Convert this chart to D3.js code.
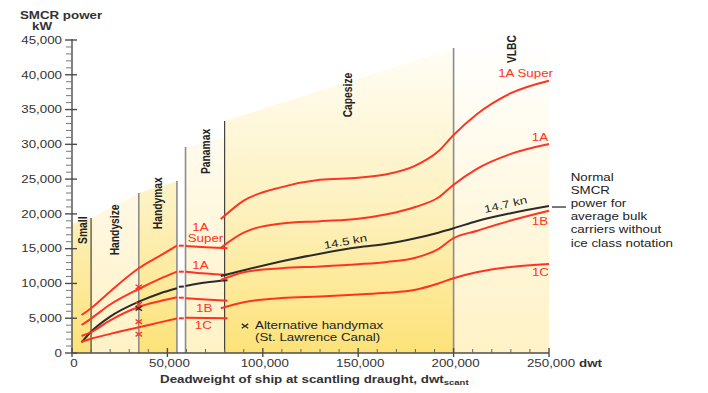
<!DOCTYPE html>
<html><head><meta charset="utf-8">
<script src="https://cdn.jsdelivr.net/npm/d3@7"></script>
<style>body{margin:0;background:#fff} svg{display:block}</style>
</head><body>
<svg id="chart" width="708" height="393"></svg>
<script>
// ---------- DATA ----------
const categories   = ["Small","Handysize","Handymax","Panamax","Capesize","VLBC"];
const catStart     = [0, 10000, 35000, 59500, 80000, 200000];
const catEnd       = [10000, 35000, 55000, 80000, 200000, 250000];
const catTopLeft   = [18500, 19400, 23000, 29600, 33350, 43850];
const catTopRight  = [19400, 23000, 24700, 31000, 43850, 48200];
const catStrong    = [true, false, true, false, true, false];
const catLabelDwt  = [5500, 22000, 45000, 70000, 144300, 230100];
const catLabelKw   = [17650, 17700, 21530, 28980, 37090, 43700];

const boundaryDwt  = [10000, 35000, 55000, 59500, 80000, 200000];
const boundaryTop  = [19400, 23000, 24730, 29610, 33350, 43850];
const boundaryDark = [true, false, false, false, true, false];

const yTicks = [0,5000,10000,15000,20000,25000,30000,35000,40000,45000];
const xTicks = [0,50000,100000,150000,200000,250000];

const seriesNames  = ["1A Super","1A","Normal","1B","1C"];

// Small .. Handymax segment
const dwtSmall        = [5000, 10000, 20000, 35000, 46000, 55000];
const kw1ASuperSmall  = [5460, 6430, 8850, 12180, 13950, 15430];
const kw1ASmall       = [4030, 4950, 6970, 9200, 10650, 11690];
const kwNormalSmall   = [1540, 3060, 5230, 7380, 8560, 9300];
const kw1BSmall       = [2440, 3000, 4700, 6620, 7450, 8010];
const kw1CSmall       = [1620, 2050, 2750, 3700, 4400, 4970];

// gap dashes
const dwtGap          = [56000, 58600];
const kw1ASuperGap    = [15430, 15430];
const kw1AGap         = [11690, 11690];
const kwNormalGap     = [9530, 9560];
const kw1BGap         = [7950, 7950];
const kw1CGap         = [4990, 4990];

// Panamax segment
const dwtPanamax      = [59500, 70000, 81500];
const kw1ASuperPanamax= [15380, 15200, 15050];
const kw1APanamax     = [11690, 11420, 11210];
const kwNormalPanamax = [9630, 10130, 10450];
const kw1BPanamax     = [7860, 7680, 7520];
const kw1CPanamax     = [5075, 5030, 4990];

// Capesize + VLBC segment
const dwtCape         = [78000, 90000, 110000, 130000, 150000, 165000, 180000, 192000, 200000, 212000, 230000, 250000];
const kw1ASuperCape   = [19250, 21900, 23850, 24900, 25200, 25700, 26950, 29000, 31350, 34300, 37350, 39150];
const kw1ACape        = [15140, 17300, 18620, 18950, 19300, 19950, 21000, 22350, 24200, 26450, 28620, 30050];
const kwNormalCape    = [11070, 11900, 13200, 14280, 15200, 15700, 16500, 17300, 17930, 18950, 20100, 21130];
const kw1BCape        = [10500, 11620, 12200, 12450, 12770, 13100, 13700, 14950, 16500, 17550, 19050, 20460];
const kw1CCape        = [6430, 7300, 7900, 8130, 8410, 8650, 9100, 10000, 10750, 11600, 12370, 12800];

// Alternative handymax (St. Lawrence Canal)
const altDwt = 35000;
const altKw  = [9500, 7000, 6400, 4500, 2700];

const noteLines = ["Normal","SMCR","power for","average bulk","carriers without","ice class notation"];

// ---------- CHART ----------
const RED = "#ff3322", BLACK = "#2b2b2b";
const seriesColors = [RED, RED, BLACK, RED, RED];
const SX = 1.27;
const FONT = "'Liberation Sans', Arial, Helvetica, sans-serif";

const svg = d3.select("#chart");
const x = d3.scaleLinear().domain([0,250000]).range([72,549]);
const y = d3.scaleLinear().domain([0,45000]).range([353,40]);

const defs = svg.append("defs");
function grad(id, bottom, mid, top){
  const g = defs.append("linearGradient").attr("id",id)
    .attr("gradientUnits","userSpaceOnUse")
    .attr("x1",0).attr("x2",0).attr("y1",y(0)).attr("y2",y(45000));
  g.append("stop").attr("offset",0).attr("stop-color",bottom);
  g.append("stop").attr("offset",0.45).attr("stop-color",mid);
  g.append("stop").attr("offset",1).attr("stop-color",top);
}
grad("gStrong", "#fde278", "#fdf1bd", "#fffef8");
grad("gLight",  "#fff2c6", "#fff8e0", "#ffffff");

function label(str, px, py, o={}){
  const t = svg.append("text")
    .attr("transform", `translate(${px},${py}) scale(${o.sx||SX},1) rotate(${o.rot||0})`)
    .attr("font-family", FONT)
    .attr("font-size", o.size||10.5)
    .attr("font-weight", o.bold ? "bold" : "normal")
    .attr("fill", o.color||"#333")
    .attr("text-anchor", o.anchor||"start")
    .text(str);
  if (o.dy) t.attr("dy", o.dy);
  return t;
}

// category regions
categories.forEach((c,i)=>{
  const pts = [[x(catStart[i]), y(0)], [x(catStart[i]), y(catTopLeft[i])],
               [x(catEnd[i]), y(catTopRight[i])], [x(catEnd[i]), y(0)]];
  svg.append("path").attr("d", "M"+pts.join("L")+"Z")
    .attr("fill", catStrong[i] ? "url(#gStrong)" : "url(#gLight)");
});

// boundary lines
boundaryDwt.forEach((d,i)=>{
  svg.append("line").attr("x1",x(d)).attr("x2",x(d)).attr("y1",y(0)).attr("y2",y(boundaryTop[i]))
    .attr("stroke", boundaryDark[i] ? "#333" : "#8c8c8c")
    .attr("stroke-width", boundaryDark[i] ? 1.1 : 1.6);
});

// category labels
categories.forEach((c,i)=>{
  svg.append("text")
    .attr("transform", `translate(${x(catLabelDwt[i])},${y(catLabelKw[i])}) scale(${SX},1) rotate(-90)`)
    .attr("font-family", FONT).attr("font-size", 10.3).attr("font-weight","bold")
    .attr("fill","#222").attr("text-anchor","middle").attr("dy","0.35em").text(c);
});

// curves
const line = d3.line().x(d=>x(d[0])).y(d=>y(d[1])).curve(d3.curveMonotoneX);
const segments = [
  [dwtSmall,   [kw1ASuperSmall, kw1ASmall, kwNormalSmall, kw1BSmall, kw1CSmall]],
  [dwtGap,     [kw1ASuperGap, kw1AGap, kwNormalGap, kw1BGap, kw1CGap]],
  [dwtPanamax, [kw1ASuperPanamax, kw1APanamax, kwNormalPanamax, kw1BPanamax, kw1CPanamax]],
  [dwtCape,    [kw1ASuperCape, kw1ACape, kwNormalCape, kw1BCape, kw1CCape]]
];
segments.forEach(([dw, series])=>{
  series.forEach((vals, si)=>{
    svg.append("path").datum(dw.map((d,k)=>[d, vals[k]]))
      .attr("d", line).attr("fill","none")
      .attr("stroke", seriesColors[si]).attr("stroke-width", 2)
      .attr("stroke-linecap","butt");
  });
});

// x markers
function cross(px, py, color){
  svg.append("path")
    .attr("d", `M${px-3.2},${py-2.2}L${px+3.2},${py+2.2}M${px-3.2},${py+2.2}L${px+3.2},${py-2.2}`)
    .attr("stroke", color).attr("stroke-width", 1.4).attr("fill","none");
}
altKw.forEach((k,i)=> cross(x(altDwt), y(k), seriesColors[i]));

// axes
const axisColor = "#4d4d4d";
svg.append("line").attr("x1",x(0)).attr("x2",x(0)).attr("y1",y(45000)-1).attr("y2",y(0))
  .attr("stroke",axisColor).attr("stroke-width",1.4);
svg.append("line").attr("x1",x(0)).attr("x2",x(250000)).attr("y1",y(0)).attr("y2",y(0))
  .attr("stroke",axisColor).attr("stroke-width",1.4);
d3.range(0,45001,1000).forEach(v=>{
  if (v % 5000 === 0) return;
  svg.append("line").attr("x1",x(0)-6).attr("x2",x(0)).attr("y1",y(v)).attr("y2",y(v))
    .attr("stroke","#777").attr("stroke-width",1);
});
yTicks.forEach(v=>{
  svg.append("line").attr("x1",x(0)-7).attr("x2",x(0)+5).attr("y1",y(v)).attr("y2",y(v))
    .attr("stroke",axisColor).attr("stroke-width",1.4);
  label(d3.format(",")(v), 62, y(v)+3.8, {anchor:"end"});
});
d3.range(0,250001,10000).forEach(v=>{
  if (v % 50000 === 0) return;
  svg.append("line").attr("x1",x(v)).attr("x2",x(v)).attr("y1",y(0)-4).attr("y2",y(0))
    .attr("stroke","#666").attr("stroke-width",1);
});
xTicks.forEach(v=>{
  svg.append("line").attr("x1",x(v)).attr("x2",x(v)).attr("y1",y(0)-5).attr("y2",y(0)+4)
    .attr("stroke",axisColor).attr("stroke-width",1.4);
  label(d3.format(",")(v), x(v)+2, 367, {anchor:"middle"});
});
label("dwt", x(250000)+30, 367, {bold:true});

// titles
label("SMCR power", 61, 19, {bold:true, anchor:"middle"});
label("kW", 42, 30, {bold:true, anchor:"middle"});
const xt = label("Deadweight of ship at scantling draught, dwt", 160, 383, {bold:true});
xt.append("tspan").attr("font-size",7.5).attr("dy",1.5).text("scant");

// curve labels (red)
label("1A Super", x(252100), y(39680), {anchor:"end", color:RED});
label("1A", x(249500), y(30480), {anchor:"end", color:RED});
label("1B", x(249500), y(18470), {anchor:"end", color:RED});
label("1C", x(250000), y(11070), {anchor:"end", color:RED});
label("1A", x(67350), y(17580), {anchor:"middle", color:RED});
label("Super", x(69970), y(16000), {anchor:"middle", color:RED});
label("1A", x(67350), y(12080), {anchor:"middle", color:RED});
label("1B", x(69290), y(5890), {anchor:"middle", color:RED});
label("1C", x(68820), y(3450), {anchor:"middle", color:RED});

// speed labels
svg.append("text").attr("transform", `translate(${x(143240)},${y(15670)-2.5}) rotate(-10) scale(${SX},1)`)
  .attr("font-family",FONT).attr("font-size",10.5).attr("fill","#222")
  .attr("text-anchor","middle").attr("dy","0.35em").text("14.5 kn");
svg.append("text").attr("transform", `translate(${x(227200)},${y(20990)-2.5}) rotate(-13) scale(${SX},1)`)
  .attr("font-family",FONT).attr("font-size",10.5).attr("fill","#222")
  .attr("text-anchor","middle").attr("dy","0.35em").text("14.7 kn");

// alternative handymax legend
cross(x(90670), y(3880), "#333");
label("Alternative handymax", x(95910), y(3520), {color:"#222"});
label("(St. Lawrence Canal)", x(95910), y(1730), {color:"#222"});

// note on right
svg.append("line").attr("x1",x(250000)+3).attr("x2",x(250000)+17)
  .attr("y1",y(kwNormalCape[kwNormalCape.length-1])+1).attr("y2",y(kwNormalCape[kwNormalCape.length-1])+1)
  .attr("stroke","#333").attr("stroke-width",1.3);
noteLines.forEach((s,i)=> label(s, x(250000)+21.7, 181 + i*13.1, {color:"#222"}));
</script>
</body></html>
